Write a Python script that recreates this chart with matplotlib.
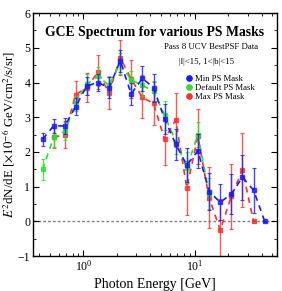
import numpy as np
import matplotlib
matplotlib.use("Agg")
import matplotlib.pyplot as plt

plt.rcParams['font.family'] = ['Liberation Serif', 'DejaVu Serif']
plt.rcParams['mathtext.fontset'] = 'stix'

# energy bins [GeV]
energy = [0.43, 0.54, 0.68, 0.85, 1.07, 1.35, 1.70, 2.14, 2.69, 3.39, 4.27,
          5.37, 6.76, 8.51, 10.7, 13.5, 17.0, 21.4, 26.9, 33.9, 42.7]

# Min PS mask (blue), all 21 bins
min_val = [2.37, 2.75, 2.75, 3.30, 3.90, 4.00, 3.85, 4.62, 3.67, 4.12, 3.85,
           2.95, 2.22, 1.62, 2.03, 0.86, 0.55, 0.79, 1.27, 0.90, 0.00]
min_err = [0.19, 0.20, 0.22, 0.24, 0.26, 0.25, 0.30, 0.32, 0.33, 0.37, 0.40,
           0.42, 0.45, 0.48, 0.50, 0.54, 0.52, 0.58, 0.65, 0.65, 0.02]

# Default PS mask (green), bins 1-16
def_val = [1.50, 2.42, 2.60, 3.40, 3.95, 4.18, 3.92, 4.55, 4.07, 3.92, 3.75,
           3.06, 2.30, 1.55, 2.50, 0.80]
def_err = [0.30, 0.27, 0.25, 0.22, 0.30, 0.27, 0.28, 0.30, 0.25, 0.30, 0.30,
           0.42, 0.35, 0.45, 0.35, 0.45]

# Max PS mask (red), bins 2-20
max_val = [2.42, 2.50, 3.65, 3.85, 4.30, 3.70, 4.72, 4.10, 3.57, 3.40, 2.36,
           2.92, 0.97, 2.45, 0.68, -0.25, 0.72, 1.48, 0.00]
max_err = [0.32, 0.40, 0.40, 0.42, 0.50, 0.47, 0.50, 0.55, 0.60, 0.62, 0.74,
           0.77, 0.78, 0.80, 0.88, 0.90, 0.93, 1.06, 0.00]

fig = plt.figure(figsize=(2.82, 2.91), dpi=100)
ax = fig.add_axes([0.117, 0.120, 0.865, 0.835])

ax.axhline(0, color='gray', ls=(0, (2, 1.5)), lw=1.0, zorder=1)

series = [
    (energy[1:20], max_val, max_err, '#ff3030', 'Max PS Mask', 2),
    (energy[:16], def_val, def_err, '#30dd30', 'Default PS Mask', 3),
    (energy, min_val, min_err, '#1a1aff', 'Min PS Mask', 4),
]
for x, y, e, c, lab, z in series:
    ax.plot(x, y, color=c, ls=(0, (3.5, 3)), lw=1.2, zorder=z)
    ax.errorbar(x, y, yerr=e, fmt='s', ms=2.2, color=c, ecolor=c,
                elinewidth=1.0, capsize=1.5, capthick=0.8, alpha=0.8, zorder=z)

ax.set_xscale('log')
ax.set_xlim(0.352, 55)
ax.set_ylim(-1, 6)
ax.set_yticks([-1, 0, 1, 2, 3, 4, 5, 6])
ax.set_yticks(np.arange(-1, 6.01, 0.5), minor=True)
ax.tick_params(which='both', direction='in', top=True, right=True,
               labelsize=8.5, pad=2)
ax.tick_params(which='major', length=4, width=0.8)
ax.tick_params(which='minor', length=2, width=0.6)
for s in ax.spines.values():
    s.set_linewidth(1.0)

ax.set_xlabel('Photon Energy [GeV]', fontsize=10, labelpad=3)
ax.set_ylabel(r'$E^2$dN/dE [$\times10^{-6}$ GeV/cm$^2$/s/sr]', fontsize=9.3,
              labelpad=0.5)

ax.text(0.5, 0.92, 'GCE Spectrum for various PS Masks', transform=ax.transAxes,
        ha='center', va='center', fontsize=9.9, fontweight='bold')
ax.text(0.73, 0.86, 'Pass 8 UCV BestPSF Data', transform=ax.transAxes,
        ha='center', va='center', fontsize=6.3)
ax.text(0.71, 0.80, '|l|<15, 1<|b|<15', transform=ax.transAxes,
        ha='center', va='center', fontsize=6.3)

handles = [plt.Line2D([], [], ls='none', marker='o', ms=3.8, color=c)
           for c in ['#1a1aff', '#30dd30', '#ff3030']]
ax.legend(handles, ['Min PS Mask', 'Default PS Mask', 'Max PS Mask'],
          loc='upper left', bbox_to_anchor=(0.6, 0.765), frameon=False,
          fontsize=6.2, handletextpad=0.1, labelspacing=0.15,
          borderpad=0, handlelength=1.2)

fig.savefig('out.png', dpi=100)
